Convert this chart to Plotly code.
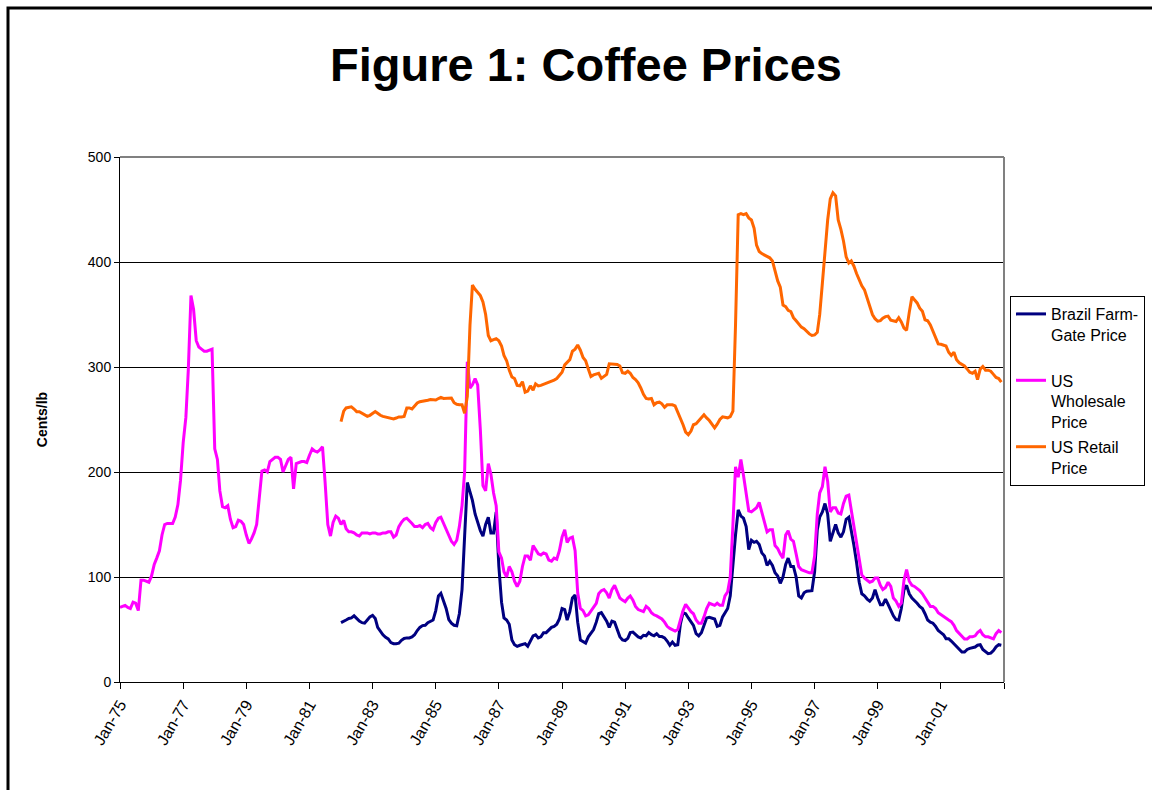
import pandas as pd
import plotly.graph_objects as go

# Monthly prices in US cents per lb.
# US wholesale: Jan-1975 .. Dec-2002
wholesale = [
    71, 72, 73, 71, 70, 76, 75, 68, 97, 97,
    96, 95, 101, 112, 118, 125, 140, 150, 151, 151,
    151, 157, 169, 192, 228, 252, 297, 368, 355, 325,
    319, 317, 315, 315, 316, 317, 222, 212, 182, 167,
    166, 168, 155, 147, 148, 154, 153, 150, 140, 132,
    136, 142, 150, 180, 201, 202, 200, 210, 212, 214,
    214, 212, 200, 206, 212, 214, 184, 208, 209, 210,
    210, 209, 216, 222, 220, 219, 221, 224, 190, 150,
    139, 152, 158, 156, 150, 154, 146, 143, 143, 142,
    140, 139, 142, 142, 142, 141, 142, 142, 141, 141,
    142, 142, 143, 143, 138, 140, 148, 152, 155, 156,
    154, 151, 148, 148, 149, 147, 150, 151, 147, 145,
    152, 156, 157, 151, 146, 139, 134, 131, 135, 148,
    168, 200, 305, 280, 283, 289, 283, 240, 187, 182,
    208, 198, 180, 168, 124, 118, 105, 100, 110, 105,
    96, 91, 96, 110, 120, 120, 116, 130, 126, 122,
    121, 123, 122, 116, 115, 118, 117, 125, 138, 145,
    133, 137, 138, 125, 85, 70, 68, 63, 64, 68,
    71, 75, 84, 87, 88, 85, 80, 88, 92, 86,
    80, 78, 76.5, 80, 82, 78, 72, 69, 68, 67,
    72, 70, 66, 64, 63, 61.6, 60, 57, 53, 51,
    49.5, 48.5, 50, 60, 68, 74, 70, 67, 65, 59,
    56, 56, 62, 70, 75, 74, 73, 75, 73, 73,
    82, 86, 100, 150, 205, 195, 212, 197, 180, 163,
    162, 164, 166, 171, 162, 152, 143, 145, 145, 130,
    127, 122, 118, 140, 144, 136, 134, 122, 110, 107,
    106, 105, 104, 104, 120, 160, 180, 186, 205, 191,
    162, 166, 166, 161, 160, 170, 177, 178, 163, 148,
    132, 115, 102, 99, 97, 95, 96, 99, 99, 92,
    88, 90, 95, 91, 80, 77, 72, 75, 97, 107,
    96, 92, 91, 89, 87, 84, 80, 76, 72, 72,
    70, 66, 64, 62, 61, 59, 57.5, 54, 49, 46,
    44, 41, 41, 43, 43, 44, 47, 49, 45, 43,
    43, 42, 41, 46, 49, 47,
]

# Brazil farm-gate: Jan-1982 .. Dec-2002
brazil = [
    56.5, 57.5, 59, 60.5, 61, 63, 60, 58, 56.5, 56,
    59, 62, 63.5, 60.5, 52, 48, 45, 42.5, 41, 37.5,
    36.5, 36.5, 37, 39.7, 41.5, 42, 42, 43, 45, 49,
    52, 53.7, 54, 56.5, 57.5, 59, 68, 82, 84.5, 78,
    70, 59.4, 56, 54, 53.5, 65, 88, 139, 190, 181,
    173, 160, 152, 144, 139, 150, 157, 142, 142, 162,
    110, 76, 61, 59, 55, 40, 35.5, 34, 35, 36,
    36.5, 34, 39, 44, 45, 42, 43, 47, 47, 50,
    52, 53, 55, 60, 70, 69, 59, 67, 80, 83,
    57, 40, 38.5, 37, 43, 46, 50, 57, 65, 66,
    62.5, 58, 52, 58, 57, 50, 43, 40, 39.5, 41.6,
    47, 47.5, 45, 43, 42, 44.5, 44, 47, 45, 44,
    46, 43.3, 43.3, 42, 39, 35, 38, 35, 35.5, 55,
    66, 65, 61, 57.5, 54, 46, 44, 47, 55, 61,
    61.6, 61, 60, 53, 54, 62, 66, 70, 82, 113,
    140, 164, 158, 156, 148, 126, 135, 133, 134, 131,
    123, 120, 111, 115, 111, 104, 101, 94, 100, 112,
    118, 110, 110, 100, 82, 80, 85, 86.4, 86.4, 87,
    105, 145, 157, 162, 170, 160, 134, 141, 150, 142,
    138, 143, 155, 157, 142, 130, 114, 95, 84, 82,
    79, 77, 80, 88, 80, 73.6, 73.6, 79, 74, 68,
    63, 59.5, 59, 70, 88, 92, 84, 80, 78, 75,
    72, 70, 65, 59, 57, 56, 53, 49, 47, 45,
    41.3, 41.3, 39, 36.5, 34.5, 31.7, 28.5, 28.5, 31, 32,
    32.5, 33.3, 35, 35.5, 31, 29, 27, 27.5, 30, 33.5,
    35.5, 35,
]

# US retail: Jan-1982 .. Dec-2002
retail = [
    248, 258, 261, 261.6, 262, 260, 257.5, 257.5, 256, 254,
    253, 254, 255.5, 257.5, 256, 254, 253, 252.5, 252, 251.4,
    250.5, 251.4, 252.5, 252.5, 253, 261, 261, 260, 263, 265.7,
    267, 267.3, 267.5, 268.3, 269, 268.5, 268.5, 270, 271, 270,
    270, 270.5, 270.5, 266, 264.5, 264, 264, 256, 272, 340,
    378, 374, 371, 368, 362, 350, 330, 325, 326, 327,
    325, 320, 311, 306, 297, 290.5, 289, 282.5, 282, 286,
    276, 277, 282, 278, 284, 282, 282.5, 283.5, 284, 285,
    286, 287.5, 289, 292, 295, 302, 304, 307, 315, 317,
    321, 316, 309, 306, 298, 291, 292.5, 293, 294, 289.2,
    291, 293, 303, 303, 303, 302.5, 301, 294.6, 294, 296,
    294, 290, 288, 285, 280, 274, 270, 269.5, 270, 264,
    266, 266.5, 265, 261.6, 264, 264, 264, 263, 257, 252,
    245, 238, 235.5, 239, 245, 246, 248.5, 252, 254.5, 251.5,
    249, 245.5, 242, 245.5, 250, 252.5, 252.3, 251.6, 252.8, 258,
    340, 445, 446, 445, 446, 442, 440, 432, 416, 410,
    408, 406.8, 405, 404, 401, 392, 382, 376, 359, 357.5,
    354, 352.8, 347, 344, 341.5, 338, 336.5, 334, 331.5, 330,
    330.5, 333, 350, 380, 412, 440, 460, 466, 463, 440,
    431, 420, 405, 399, 401, 396, 389, 382.5, 377.4, 373.5,
    366, 359, 350, 346, 343.6, 344.2, 346.5, 348, 348.5, 344.6,
    343.8, 343.3, 347, 343, 337, 335, 352, 367, 364, 361,
    356, 353, 345, 344, 340, 334, 328, 322, 321.6, 321,
    320, 314, 311, 314, 307, 304, 302.5, 301, 298, 295,
    294, 296, 288, 298, 300.5, 297, 297, 296, 293, 290,
    289, 285.5,
]

series_names = ["Brazil Farm-<br>Gate Price<br> ", "US<br>Wholesale<br>Price", "US Retail<br>Price"]
series_colors = ["#000080", "#FF00FF", "#FF6600"]

tick_dates = [f"{y}-01-01" for y in range(1975, 2004, 2)]
tick_labels = ["Jan-75", "Jan-77", "Jan-79", "Jan-81", "Jan-83", "Jan-85", "Jan-87",
               "Jan-89", "Jan-91", "Jan-93", "Jan-95", "Jan-97", "Jan-99", "Jan-01", ""]
y_ticks = [0, 100, 200, 300, 400, 500]

dates_all = pd.date_range("1975-01-01", periods=len(wholesale), freq="MS")
dates_82 = pd.date_range("1982-01-01", periods=len(brazil), freq="MS")

FONT = "Arial, Liberation Sans, sans-serif"

fig = go.Figure()
for i, (name, x, y, col) in enumerate([
    (series_names[0], dates_82, brazil, series_colors[0]),
    (series_names[1], dates_all, wholesale, series_colors[1]),
    (series_names[2], dates_82, retail, series_colors[2]),
]):
    fig.add_trace(go.Scatter(x=x, y=y, name=name, mode="lines", legendgroup=f"g{i}",
                             line=dict(color=col, width=3)))

W, H = 1152, 790
L, R, T, B = 120, 148, 157, 108
pw, ph = W - L - R, H - T - B


def px_x(p):
    return (p - L) / pw


def px_y(p):
    return (H - B - p) / ph


fig.update_layout(
    width=W, height=H, autosize=False,
    margin=dict(l=L, r=R, t=T, b=B, autoexpand=False),
    paper_bgcolor="white", plot_bgcolor="white",
    font=dict(family=FONT, color="black"),
    title=dict(text="<b>Figure 1: Coffee Prices</b>", font=dict(size=47, family=FONT),
               xref="container", x=586 / W, xanchor="center",
               yref="container", y=1 - 65 / H, yanchor="middle"),
    xaxis=dict(type="date", range=["1975-01-01", "2003-01-01"],
               tickvals=tick_dates, ticktext=tick_labels, tickangle=-60,
               ticks="outside", ticklen=6, tickcolor="black", tickwidth=1,
               showline=True, linecolor="black", linewidth=1,
               showgrid=False, zeroline=False, tickfont=dict(size=16)),
    yaxis=dict(range=[0, 500], tickvals=y_ticks,
               ticks="outside", ticklen=5, tickcolor="black", tickwidth=1,
               showline=True, linecolor="black", linewidth=1,
               showgrid=True, gridcolor="black", gridwidth=1, zeroline=False,
               tickfont=dict(size=14),
               title=dict(text="<b>Cents/lb</b>", font=dict(size=14), standoff=36)),
    legend=dict(xref="container", yref="container", x=1010 / W, y=1 - 296 / H,
                xanchor="left", yanchor="top",
                bordercolor="black", borderwidth=1, bgcolor="white",
                font=dict(size=16), tracegroupgap=1, valign="top"),
    shapes=[
        # plot-area border (top and right)
        dict(type="line", xref="paper", yref="paper", x0=0, x1=1, y0=1, y1=1,
             line=dict(color="#808080", width=2), layer="above"),
        dict(type="line", xref="paper", yref="paper", x0=1, x1=1, y0=0, y1=1,
             line=dict(color="#808080", width=2), layer="above"),
        # chart-area frame
        dict(type="rect", xref="paper", yref="paper",
             x0=px_x(8), x1=px_x(1170), y0=px_y(810), y1=px_y(8),
             line=dict(color="black", width=3), fillcolor="rgba(0,0,0,0)"),
    ],
)

fig.write_html("out.html")
